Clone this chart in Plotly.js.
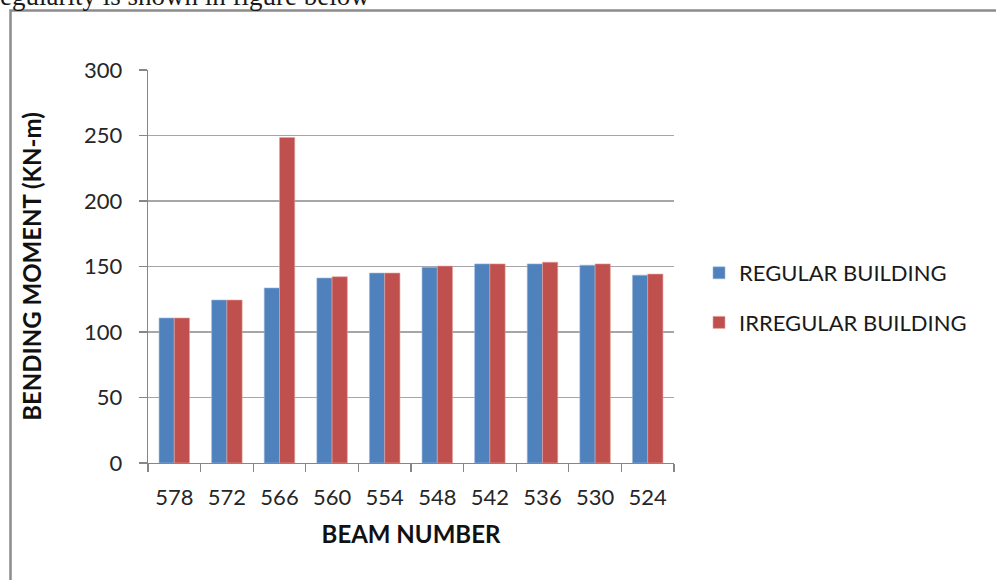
<!DOCTYPE html>
<html>
<head>
<meta charset="utf-8">
<script src="https://cdn.plot.ly/plotly-3.0.1.min.js"></script>
<style>
html,body{margin:0;padding:0;background:#fff;}
#chart{width:996px;height:580px;}
</style>
</head>
<body>
<div id="chart"></div>
<script>
const beams = ["578","572","566","560","554","548","542","536","530","524"];
const regular = [110.7, 124.4, 133.6, 141.2, 145.0, 149.5, 152.0, 152.0, 151.0, 143.4];
const irregular = [110.7, 124.4, 248.5, 142.2, 145.0, 150.3, 152.0, 153.3, 152.0, 144.2];
const seriesNames = ["REGULAR BUILDING", "IRREGULAR BUILDING"];
const yTicks = [0, 50, 100, 150, 200, 250, 300];

const L = 148, R = 322, T = 70, B = 117;
const W = 996, H = 580;
const pw = W - L - R, ph = H - T - B;
const px2x = p => (p - L) / pw;
const py2y = p => (H - B - p) / ph;

const font = "Lato, 'Open Sans', sans-serif";

const traces = [
  {type: "bar", x: beams, y: regular, name: seriesNames[0], legendgroup: "a",
   marker: {color: "#4F81BD", line: {color: "#9DB7DB", width: 0.6}}, hoverinfo: "none"},
  {type: "bar", x: beams, y: irregular, name: seriesNames[1], legendgroup: "b",
   marker: {color: "#C0504D", line: {color: "#E3A3A1", width: 0.6}}, hoverinfo: "none"}
];

const layout = {
  width: W, height: H,
  margin: {l: L, r: R, t: T, b: B, pad: 0},
  paper_bgcolor: "#fff", plot_bgcolor: "#fff",
  barmode: "group", bargap: 0.42, bargroupgap: 0,
  font: {family: font, color: "#262626", size: 22},
  showlegend: true,
  legend: {x: px2x(699), xanchor: "left", y: py2y(252), yanchor: "top",
           traceorder: "grouped", tracegroupgap: 18,
           font: {family: font, size: 22, color: "#1a1a1a"}, bgcolor: "rgba(0,0,0,0)"},
  xaxis: {type: "category", tickson: "boundaries", ticks: "outside", ticklen: 8,
          tickcolor: "#868686", tickwidth: 1.3, showline: true, linecolor: "#868686", linewidth: 1.3,
          showgrid: false, ticklabelstandoff: 14, tickfont: {family: font, size: 22, color: "#262626"},
          title: {text: "<b>BEAM NUMBER</b>", standoff: 17, font: {family: font, size: 24, color: "#111"}},
          fixedrange: true},
  yaxis: {range: [0, 300], tickvals: yTicks, ticks: "outside", ticklen: 8,
          tickcolor: "#868686", tickwidth: 1.3, showline: true, linecolor: "#868686", linewidth: 1.3,
          showgrid: true, gridcolor: "#A6A6A6", gridwidth: 1.3, zeroline: false,
          ticklabelstandoff: 12, tickfont: {family: font, size: 22, color: "#262626"},
          title: {text: "<b>BENDING MOMENT (KN-m)</b>", standoff: 35, font: {family: font, size: 24, color: "#111"}},
          fixedrange: true},
  shapes: [
    {type: "path", xref: "paper", yref: "paper",
     path: `M ${px2x(10.5)} ${py2y(620)} L ${px2x(10.5)} ${py2y(10.5)} L ${px2x(1020)} ${py2y(10.5)}`,
     line: {color: "#8C8C8C", width: 2.5}}
  ],
  annotations: [
    {xref: "paper", yref: "paper", x: px2x(-2), y: py2y(13), xanchor: "left", yanchor: "bottom",
     text: "egularity is shown in figure below", showarrow: false,
     font: {family: "'Liberation Serif', 'DejaVu Serif', serif", size: 27, color: "#1a1a1a"}}
  ]
};

Plotly.newPlot("chart", traces, layout, {staticPlot: true, displayModeBar: false});
</script>
</body>
</html>
